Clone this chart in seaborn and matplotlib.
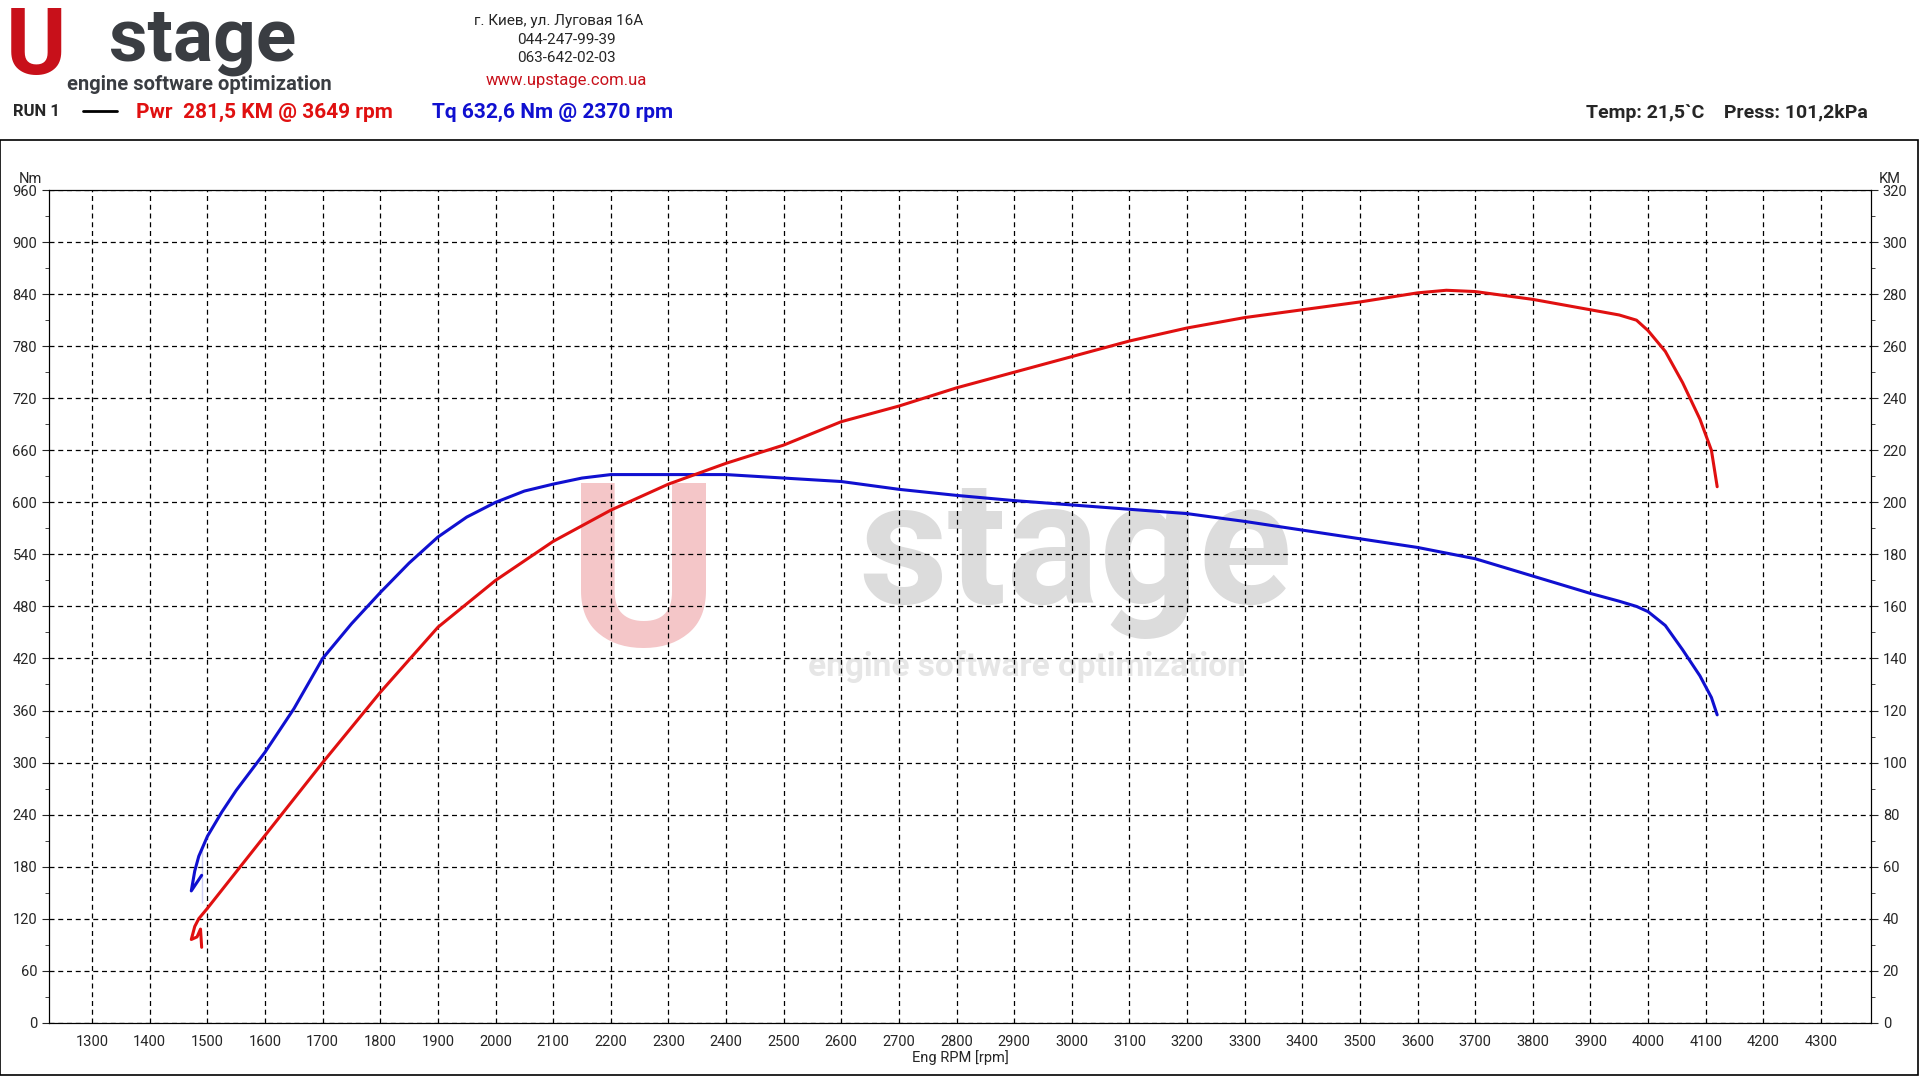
import matplotlib
matplotlib.use('Agg')
import matplotlib.pyplot as plt
import seaborn as sns
import pandas as pd
from matplotlib.patches import Rectangle

# torque curve, Nm
tq_rpm = [1490, 1488, 1482, 1472, 1478, 1485, 1490, 1500, 1525, 1550, 1600, 1650, 1700, 1750, 1800, 1850,
          1900, 1950, 2000, 2050, 2100, 2150, 2200, 2300, 2400, 2500, 2600, 2700, 2800, 2900, 3000,
          3100, 3200, 3300, 3400, 3500, 3600, 3700, 3800, 3900, 3950, 3980, 4000, 4030, 4060, 4090,
          4110, 4120]
tq_nm = [138, 168, 162, 152, 175, 192, 202, 215, 243, 268, 312, 362, 420, 460, 496, 530,
         560, 583, 600, 613, 621, 628, 632, 632, 632, 628, 624, 615, 608, 602, 597,
         592, 587, 578, 568, 558, 548, 535, 515, 495, 486, 480, 474, 458, 430, 400,
         375, 355]
# power curve, KM
pw_rpm = [1490, 1488, 1482, 1472, 1478, 1485, 1500, 1550, 1600, 1700, 1800, 1900, 2000, 2100, 2200,
          2300, 2400, 2500, 2600, 2700, 2800, 2900, 3000, 3100, 3200, 3300, 3400, 3500, 3600,
          3650, 3700, 3800, 3900, 3950, 3980, 4000, 4030, 4060, 4090, 4110, 4120]
pw_km = [29, 36, 33, 32, 37, 40, 44, 58, 72, 100, 127, 152, 170, 185, 197,
         207, 215, 222, 231, 237, 244, 250, 256, 262, 267, 271, 274, 277, 280.5,
         281.5, 281, 278, 274, 272, 270, 266, 258, 246, 232, 220, 206]

tq = pd.DataFrame({'rpm': tq_rpm, 'Nm': tq_nm})
pw = pd.DataFrame({'rpm': pw_rpm, 'KM': pw_km})

sns.set_style('white')
plt.rcParams['font.family'] = ['Roboto', 'DejaVu Sans']

fig = plt.figure(figsize=(19.2, 10.8), dpi=100)
ax = fig.add_axes([0.0255, 0.053, 0.949, 0.771])
ax2 = ax.twinx()

# watermark
fig.text(0.335, 0.46, 'U', fontsize=165, fontweight='bold', color='#f4c6c8', ha='center', va='center', zorder=0)
fig.text(0.56, 0.485, 'stage', fontsize=125, fontweight='bold', color='#dcdcdc', ha='center', va='center', zorder=0)
fig.text(0.535, 0.383, 'engine software optimization', fontsize=24, fontweight='bold', color='#e6e6e6', ha='center', va='center', zorder=0)
ax.set_zorder(2)
ax2.set_zorder(3)
ax.patch.set_alpha(0)
ax2.patch.set_alpha(0)

sns.lineplot(data=tq, x='rpm', y='Nm', ax=ax, sort=False, color='#1010d0', linewidth=2.2)
sns.lineplot(data=pw, x='rpm', y='KM', ax=ax2, sort=False, color='#e01010', linewidth=2.2)

ax.set_xlim(1225, 4387)
ax.set_ylim(0, 960)
ax2.set_ylim(0, 320)
ax.set_xticks(range(1300, 4301, 100))
ax.set_xticks(range(1250, 4400, 50), minor=True)
ax.set_yticks(range(0, 961, 60))
ax.set_yticks(range(0, 961, 30), minor=True)
ax2.set_yticks(range(0, 321, 20))
ax2.set_yticks(range(0, 321, 10), minor=True)
ax.grid(True, which='major', color='black', linestyle=(0, (4, 3)), linewidth=0.9)
ax.tick_params(axis='both', which='major', labelsize=10.5, length=5, direction='out')
ax.tick_params(axis='both', which='minor', length=3)
ax2.tick_params(axis='y', which='major', labelsize=10.5, length=5)
ax2.tick_params(axis='y', which='minor', length=3)
ax.set_xlabel('Eng RPM [rpm]', fontsize=10.5, labelpad=1)
ax.set_ylabel('')
ax2.set_ylabel('')
for a in (ax, ax2):
    for s in a.spines.values():
        s.set_color('black')
        s.set_linewidth(0.8)
ax.text(-0.01, 1.005, 'Nm', transform=ax.transAxes, fontsize=10.5, ha='center', va='bottom')
ax2.text(1.01, 1.005, 'KM', transform=ax.transAxes, fontsize=10.5, ha='center', va='bottom')

# frame around plot area
fig.patches.append(Rectangle((0.0, 0.005), 0.999, 0.865, transform=fig.transFigure, fill=False,
                             edgecolor='black', linewidth=1.2))

# header
fig.text(0.003, 0.955, 'U', fontsize=66, fontweight='bold', color='#c8101a', ha='left', va='center')
fig.text(0.057, 0.962, 'stage', fontsize=54, fontweight='bold', color='#3a3d42', ha='left', va='center')
fig.text(0.035, 0.922, 'engine software optimization', fontsize=14.5, fontweight='bold', color='#3a3d42', ha='left', va='center')
fig.text(0.291, 0.981, 'г. Киев, ул. Луговая 16А', fontsize=11, ha='center', va='center')
fig.text(0.295, 0.963, '044-247-99-39', fontsize=11, ha='center', va='center')
fig.text(0.295, 0.946, '063-642-02-03', fontsize=11, ha='center', va='center')
fig.text(0.295, 0.925, 'www.upstage.com.ua', fontsize=12, color='#c8101a', ha='center', va='center')
fig.text(0.007, 0.897, 'RUN 1', fontsize=12, fontweight='bold', ha='left', va='center')
fig.lines.append(plt.Line2D([0.043, 0.061], [0.897, 0.897], transform=fig.transFigure, color='black', linewidth=2))
fig.text(0.071, 0.896, 'Pwr  281,5 KM @ 3649 rpm', fontsize=15, fontweight='bold', color='#e01010', ha='left', va='center')
fig.text(0.225, 0.896, 'Tq 632,6 Nm @ 2370 rpm', fontsize=15, fontweight='bold', color='#1010d0', ha='left', va='center')
fig.text(0.826, 0.895, 'Temp: 21,5`C    Press: 101,2kPa', fontsize=14, fontweight='bold', ha='left', va='center')

fig.savefig('out.png', dpi=100)
